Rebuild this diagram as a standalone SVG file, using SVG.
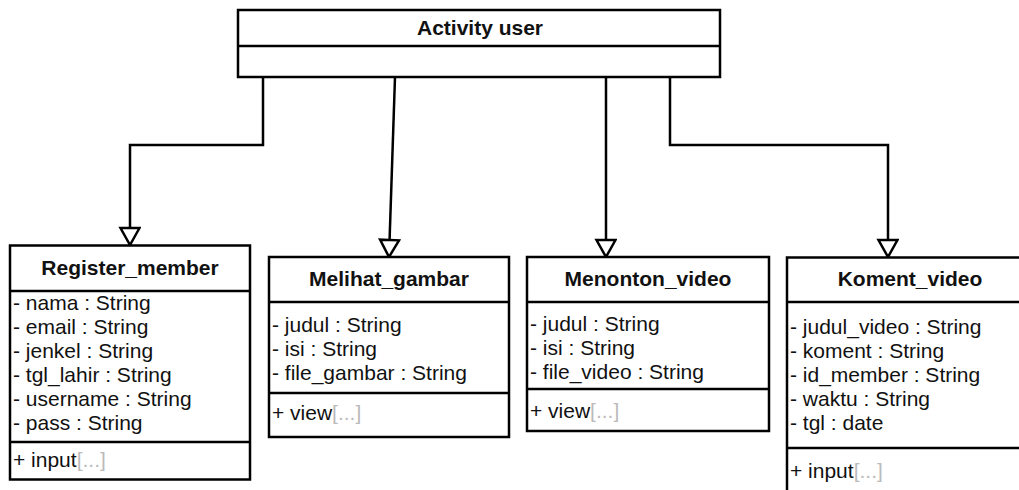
<svg xmlns="http://www.w3.org/2000/svg" width="1019" height="490" viewBox="0 0 1019 490">
<style>
.box{fill:#fff;stroke:#000;stroke-width:2.5}
.ln{fill:none;stroke:#000;stroke-width:2.5}
.t{font-family:"Liberation Sans",Arial,sans-serif;font-size:21px;fill:#111;font-weight:bold;text-anchor:middle}
.a{font-family:"Liberation Sans",Arial,sans-serif;font-size:21px;fill:#111}
.g{fill:#bbb}
.c{fill:none;stroke:#000;stroke-width:2.5}
</style>
<defs>
<marker id="tri" markerUnits="userSpaceOnUse" markerWidth="24" markerHeight="24" refX="19" refY="11" orient="auto">
<path d="M2,1.5 L19,11 L2,20.5 Z" fill="#fff" stroke="#000" stroke-width="2.5"/>
</marker>
</defs>
<rect width="1019" height="490" fill="#fff"/>
<g id="connectors">
<path class="c" d="M263,77 V145 H130 V245" marker-end="url(#tri)"/>
<path class="c" d="M395,77 L389,257" marker-end="url(#tri)"/>
<path class="c" d="M606,77 V257" marker-end="url(#tri)"/>
<path class="c" d="M670,77 V145 H888 V257" marker-end="url(#tri)"/>
</g>
<g id="activity_user">
<rect class="box" x="238" y="10" width="482" height="67"/>
<line class="ln" x1="238" y1="46" x2="720" y2="46"/>
<text class="t" x="480" y="35">Activity user</text>
</g>
<g id="register_member">
<rect class="box" x="10" y="245.5" width="240" height="234"/>
<line class="ln" x1="10" y1="291" x2="250" y2="291"/>
<line class="ln" x1="10" y1="442" x2="250" y2="442"/>
<text class="t" x="130" y="275">Register_member</text>
<text class="a" x="13" y="310">- nama : String</text>
<text class="a" x="13" y="334">- email : String</text>
<text class="a" x="13" y="358">- jenkel : String</text>
<text class="a" x="13" y="382">- tgl_lahir : String</text>
<text class="a" x="13" y="406">- username : String</text>
<text class="a" x="13" y="430">- pass : String</text>
<text class="a" x="13" y="467">+ input<tspan class="g">[...]</tspan></text>
</g>
<g id="melihat_gambar">
<rect class="box" x="269" y="257" width="240" height="180"/>
<line class="ln" x1="269" y1="302" x2="509" y2="302"/>
<line class="ln" x1="269" y1="393" x2="509" y2="393"/>
<text class="t" x="389" y="286">Melihat_gambar</text>
<text class="a" x="272" y="332">- judul : String</text>
<text class="a" x="272" y="356">- isi : String</text>
<text class="a" x="272" y="380">- file_gambar : String</text>
<text class="a" x="272" y="420">+ view<tspan class="g">[...]</tspan></text>
</g>
<g id="menonton_video">
<rect class="box" x="527" y="257" width="242" height="174"/>
<line class="ln" x1="527" y1="302" x2="769" y2="302"/>
<line class="ln" x1="527" y1="389" x2="769" y2="389"/>
<text class="t" x="648" y="286">Menonton_video</text>
<text class="a" x="530" y="331">- judul : String</text>
<text class="a" x="530" y="355">- isi : String</text>
<text class="a" x="530" y="379">- file_video : String</text>
<text class="a" x="530" y="418">+ view<tspan class="g">[...]</tspan></text>
</g>
<g id="koment_video">
<rect class="box" x="787" y="257.5" width="246" height="250"/>
<line class="ln" x1="787" y1="302" x2="1033" y2="302"/>
<line class="ln" x1="787" y1="448" x2="1033" y2="448"/>
<text class="t" x="910" y="286">Koment_video</text>
<text class="a" x="790" y="334">- judul_video : String</text>
<text class="a" x="790" y="358">- koment : String</text>
<text class="a" x="790" y="382">- id_member : String</text>
<text class="a" x="790" y="406">- waktu : String</text>
<text class="a" x="790" y="430">- tgl : date</text>
<text class="a" x="790" y="478">+ input<tspan class="g">[...]</tspan></text>
</g>
</svg>
